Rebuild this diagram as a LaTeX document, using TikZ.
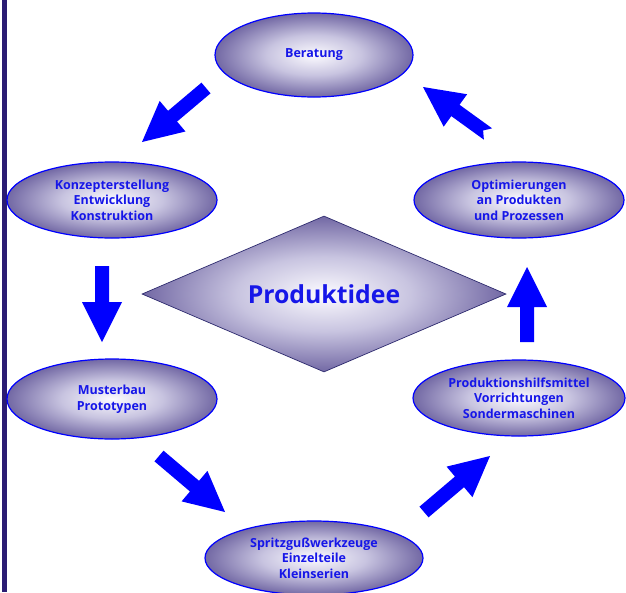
\documentclass[tikz,border=0pt]{standalone}
\usepackage{fontspec}
\setmainfont{Open Sans}
\usetikzlibrary{calc,shapes.geometric}
\definecolor{txtblue}{RGB}{22,22,232}
\definecolor{shadeout}{RGB}{114,104,164}
\definecolor{shadein}{RGB}{252,251,255}
\definecolor{shademid}{RGB}{200,196,224}
\definecolor{barcol}{RGB}{43,28,115}
\definecolor{diaedge}{RGB}{45,42,110}
\pgfdeclareradialshading{bubbleshade}{\pgfpoint{0bp}{0bp}}{color(0bp)=(shadein); color(12bp)=(shademid); color(25bp)=(shadeout); color(50bp)=(shadeout)}
\newcommand\blockarrow[2][0pt]{%
  \coordinate (#2h) at ($(#2p)!40pt!(#2t)$);
  \coordinate (#2n) at ($(#2t)!#1!(#2p)$);
  \fill[arrowfill] ($(#2t)!7pt!90:(#2p)$) -- ($(#2h)!7pt!90:(#2p)$) -- ($(#2h)!20pt!90:(#2p)$) -- (#2p) -- ($(#2h)!20pt!-90:(#2p)$) -- ($(#2h)!7pt!-90:(#2p)$) -- ($(#2t)!7pt!-90:(#2p)$) -- (#2n) -- cycle;
}
\begin{document}
\begin{tikzpicture}[x=1pt,y=-1pt,
  bubble/.style={ellipse, draw=blue, line width=1.2pt, shading=bubbleshade,
    inner sep=0pt, minimum width=210pt, minimum height=76pt, text=txtblue, align=center,
    font=\bfseries\fontsize{12.5}{15.5}\selectfont},
  arrowfill/.style={fill=blue}]
\useasboundingbox (0,0) rectangle (626,592);
\fill[barcol] (2,0) rectangle (7,592);
\node[diamond, aspect=2.333, minimum width=364pt, minimum height=156pt, inner sep=0pt,
  draw=diaedge, line width=0.7pt, shading=bubbleshade,
  text=txtblue, font=\bfseries\fontsize{24.8}{28}\selectfont] (idee) at (324,294) {Produktidee};
\node[bubble, minimum width=198pt, minimum height=84pt] (ber) at (314,55) {Beratung};
\node[bubble] (kon) at (112,200) {Konzepterstellung\\Entwicklung\\Konstruktion};
\node[bubble] (opt) at (519,200) {Optimierungen\\an Produkten\\und Prozessen};
\node[bubble, minimum height=80pt] (mus) at (112,399) {Musterbau\\Prototypen};
\node[bubble, minimum width=212pt] (pro) at (519,398) {Produktionshilfsmittel\\Vorrichtungen\\Sondermaschinen};
\node[bubble, minimum width=218pt, minimum height=74pt] (spr) at (314,558) {Spritzgußwerkzeuge\\Einzelteile\\Kleinserien};
\coordinate (a1t) at (206,88);  \coordinate (a1p) at (142,142);
\coordinate (a2t) at (102,266); \coordinate (a2p) at (102,342);
\coordinate (a3t) at (159,456); \coordinate (a3p) at (225,512);
\coordinate (a4t) at (424,512); \coordinate (a4p) at (490,456);
\coordinate (a5t) at (527,342); \coordinate (a5p) at (527,267);
\coordinate (a6t) at (488,134); \coordinate (a6p) at (423,87);
\blockarrow{a1}
\blockarrow{a2}
\blockarrow{a3}
\blockarrow{a4}
\blockarrow{a5}
\blockarrow[6pt]{a6}
\end{tikzpicture}
\end{document}
